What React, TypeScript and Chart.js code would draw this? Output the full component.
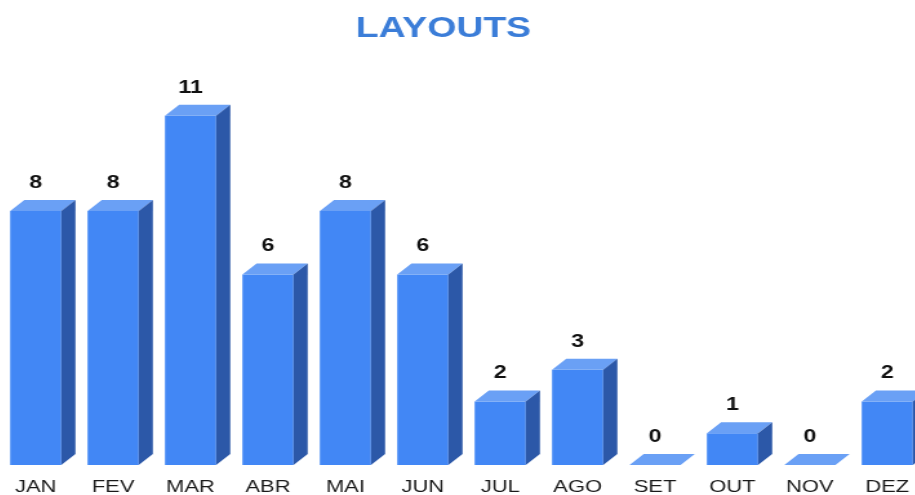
import React, { useEffect, useRef } from "react";
import { Chart, registerables } from "chart.js";

Chart.register(...registerables);

const TITLE = "LAYOUTS";
const MONTHS = ["JAN", "FEV", "MAR", "ABR", "MAI", "JUN", "JUL", "AGO", "SET", "OUT", "NOV", "DEZ"];
const LAYOUT_COUNTS = [8, 8, 11, 6, 8, 6, 2, 3, 0, 1, 0, 2];
const Y_MAX = 12;

const FONT = "'Liberation Sans', Arial, sans-serif";
const FRONT = "#4287f5";
const TOP = "#6aa0f5";
const SIDE = "#2c58a8";
const DEPTH = 11;

const INNER_W = 720;
const INNER_H = 510;
const CSS_W = 929;

const bar3d = {
  id: "bar3d",
  afterDatasetsDraw(chart: any) {
    const ctx = chart.ctx;
    const meta = chart.getDatasetMeta(0);
    ctx.save();
    meta.data.forEach((el: any, i: number) => {
      const { x, y, base, width } = el.getProps(["x", "y", "base", "width"], true);
      const l = x - width / 2;
      const r = x + width / 2;
      ctx.fillStyle = TOP;
      ctx.beginPath();
      ctx.moveTo(l, y);
      ctx.lineTo(l + DEPTH, y - DEPTH);
      ctx.lineTo(r + DEPTH, y - DEPTH);
      ctx.lineTo(r, y);
      ctx.closePath();
      ctx.fill();
      if (base - y > 0.5) {
        ctx.fillStyle = SIDE;
        ctx.beginPath();
        ctx.moveTo(r, y);
        ctx.lineTo(r + DEPTH, y - DEPTH);
        ctx.lineTo(r + DEPTH, base - DEPTH);
        ctx.lineTo(r, base);
        ctx.closePath();
        ctx.fill();
      }
      ctx.fillStyle = "#111";
      ctx.font = `bold 18px ${FONT}`;
      ctx.textAlign = "center";
      ctx.textBaseline = "middle";
      ctx.fillText(String(LAYOUT_COUNTS[i]), x, y - 28);
    });
    ctx.restore();
  },
  afterDraw(chart: any) {
    const ctx = chart.ctx;
    ctx.save();
    ctx.fillStyle = "#3b7dd8";
    ctx.font = `bold 29px ${FONT}`;
    ctx.textAlign = "center";
    ctx.textBaseline = "middle";
    ctx.fillText(TITLE, 346, 28.5);
    ctx.restore();
  },
};

export default function App() {
  const ref = useRef<HTMLCanvasElement | null>(null);
  useEffect(() => {
    if (!ref.current) return;
    const chart = new Chart(ref.current, {
      type: "bar",
      data: {
        labels: MONTHS,
        datasets: [
          {
            data: LAYOUT_COUNTS,
            backgroundColor: FRONT,
            borderWidth: 0,
            categoryPercentage: 1,
            barPercentage: 0.66,
          },
        ],
      },
      options: {
        responsive: false,
        animation: false,
        devicePixelRatio: 1,
        layout: { padding: { top: 84, left: 0, right: 0, bottom: 0 } },
        plugins: {
          legend: { display: false },
          tooltip: { enabled: false },
          title: { display: false },
        },
        scales: {
          x: {
            grid: { display: false, drawTicks: false },
            border: { display: false },
            ticks: {
              color: "#1a1a1a",
              font: { family: FONT, size: 17 },
              padding: 12.3,
              maxRotation: 0,
              autoSkip: false,
            },
          },
          y: {
            display: false,
            min: 0,
            max: Y_MAX,
          },
        },
      },
      plugins: [bar3d],
    });
    return () => chart.destroy();
  }, []);
  return (
    <div
      style={{
        position: "fixed",
        left: 0,
        top: 0,
        width: 915,
        height: 495,
        overflow: "hidden",
        background: "#fff",
      }}
    >
      <canvas
        ref={ref}
        width={INNER_W}
        height={INNER_H}
        style={{ position: "absolute", left: -3, top: 0, width: `${CSS_W}px`, height: `${INNER_H}px`, display: "block" }}
      />
    </div>
  );
}
